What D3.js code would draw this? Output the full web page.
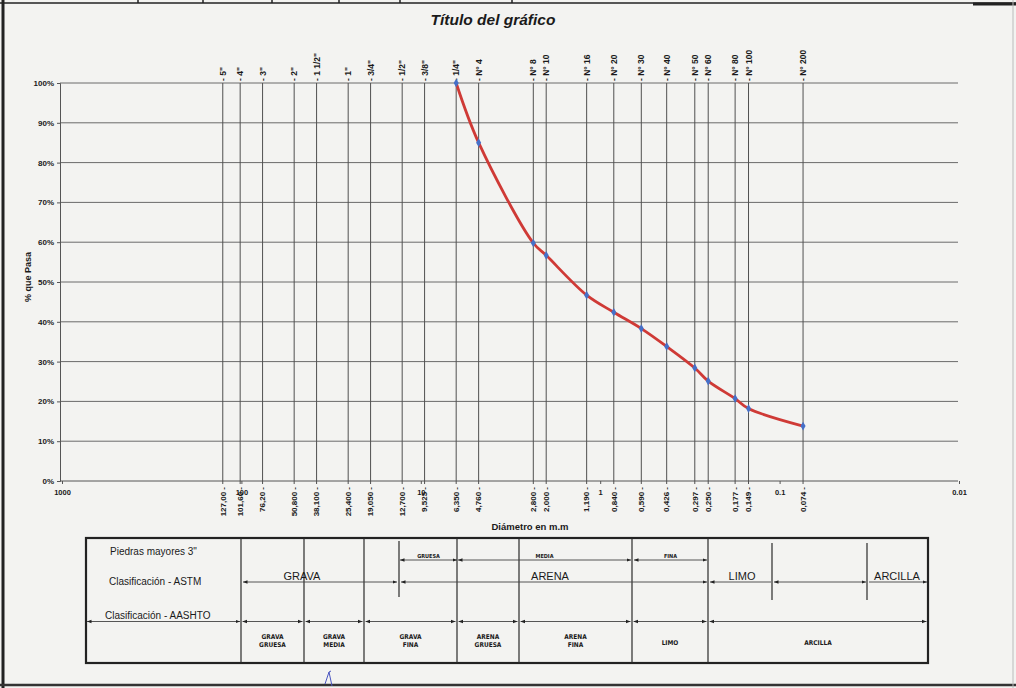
<!DOCTYPE html>
<html><head><meta charset="utf-8">
<script src="https://d3js.org/d3.v7.min.js"></script>
<style>
html,body{margin:0;padding:0;background:#f3f3f1;}
svg{display:block;}
text{font-family:"Liberation Sans",Arial,sans-serif;fill:#1a1a1a;}
</style></head>
<body>
<svg id="c" width="1016" height="688"></svg>
<script>
// ---------------- DATA ----------------
const sieveNames = ['- 5"','- 4"','- 3"','- 2"','- 1 1/2"','- 1"','- 3/4"','- 1/2"','- 3/8"','- 1/4"',
  '- N° 4','- N° 8','- N° 10','- N° 16','- N° 20','- N° 30','- N° 40','- N° 50','- N° 60','- N° 80','- N° 100','- N° 200'];
const sieveSizes = [127,101.6,76.2,50.8,38.1,25.4,19.05,12.7,9.525,6.35,4.76,2.36,2.0,1.19,0.84,0.59,0.426,0.297,0.25,0.177,0.149,0.074];
const sieveSizeLabels = ['127,00 -','101,60 -','76,20 -','50,800 -','38,100 -','25,400 -','19,050 -','12,700 -','9,525 -','6,350 -','4,760 -',
  '2,800 -','2,000 -','1,190 -','0,840 -','0,590 -','0,426 -','0,297 -','0,250 -','0,177 -','0,149 -','0,074 -'];
// test points: sieve size (mm) and fraction passing
const testSizes   = [6.35,4.76,2.36,2.0,1.19,0.84,0.59,0.426,0.297,0.25,0.177,0.149,0.074];
const testPassing = [1.00,0.85,0.598,0.567,0.467,0.424,0.383,0.338,0.284,0.251,0.207,0.182,0.138];
const xTickValues = [1000,100,10,1,0.1,0.01];
const xTickLabels = ["1000","100","10","1","0.1","0.01"];
const yTickValues = [0,0.1,0.2,0.3,0.4,0.5,0.6,0.7,0.8,0.9,1.0];
const titleText = "Título del gráfico";
const yTitle = "% que Pasa";
const xTitle = "Diámetro en m.m";
const rowLabels = ['Piedras mayores 3"','Clasificación - ASTM','Clasificación - AASHTO'];
const astmSubLabels = ["GRUESA","MEDIA","FINA"];
const astmLabels = ["GRAVA","ARENA","LIMO","ARCILLA"];
const aashtoLabels = [["GRAVA","GRUESA"],["GRAVA","MEDIA"],["GRAVA","FINA"],["ARENA","GRUESA"],["ARENA","FINA"],["LIMO"],["ARCILLA"]];

// ---------------- LAYOUT ----------------
const svg = d3.select("#c");
const L = {left:60, right:958, top:83, bottom:481};
const x = d3.scaleLog().domain([1000,0.01]).range([62,959]);
const y = d3.scaleLinear().domain([0,1]).range([L.bottom,L.top]);

// page frame (scan)
const frame = svg.append("g").attr("stroke","#222").attr("fill","none");
frame.append("line").attr("x1",3).attr("x2",3).attr("y1",0).attr("y2",688).attr("stroke-width",3);
frame.append("line").attr("x1",0).attr("x2",1016).attr("y1",3).attr("y2",3).attr("stroke-width",1.5);
[138,203,272,339,400,512].forEach(v=>frame.append("line").attr("x1",v).attr("x2",v).attr("y1",0).attr("y2",3).attr("stroke-width",1.5));
frame.append("line").attr("x1",973).attr("x2",1016).attr("y1",4).attr("y2",4).attr("stroke-width",3);
frame.append("line").attr("x1",0).attr("x2",1016).attr("y1",685).attr("y2",685).attr("stroke-width",2.5).attr("stroke","#333");
frame.append("line").attr("x1",1013).attr("x2",1013).attr("y1",0).attr("y2",688).attr("stroke-width",1).attr("stroke","#bbb");

// title
svg.append("text").attr("x",493).attr("y",25).attr("text-anchor","middle")
  .style("font-size","15.5px").style("font-weight","bold").style("font-style","italic").text(titleText);

// horizontal gridlines
svg.append("g").selectAll("line").data(yTickValues.filter(d=>d>0)).join("line")
  .attr("x1",L.left).attr("x2",L.right).attr("y1",d=>y(d)).attr("y2",d=>y(d))
  .attr("stroke","#6a6a6a").attr("stroke-width",1);

// y axis
const yAxis = svg.append("g").attr("transform",`translate(${L.left},0)`)
  .call(d3.axisLeft(y).tickValues(yTickValues).tickFormat(d3.format(".0%")).tickSize(3).tickPadding(3));
yAxis.select(".domain").attr("stroke","#555");
yAxis.selectAll(".tick line").attr("stroke","#555");
yAxis.selectAll("text").style("font-size","8px").style("font-weight","bold").attr("fill","#222");

// x axis
const xAxis = svg.append("g").attr("transform",`translate(0,${L.bottom})`)
  .call(d3.axisBottom(x).tickValues(xTickValues).tickFormat((d,i)=>xTickLabels[i]).tickSize(3).tickPadding(6));
xAxis.select(".domain").attr("stroke","#555").attr("d",`M${L.left},0H${L.right}`);
xAxis.selectAll(".tick line").attr("stroke","#555");
xAxis.selectAll("text").style("font-size","7.5px").style("font-weight","bold").attr("fill","#222");

// sieve lines
const sieves = sieveSizes.map((s,i)=>({s, name:sieveNames[i], lab:sieveSizeLabels[i]}));
svg.append("g").selectAll("line").data(sieves).join("line")
  .attr("x1",d=>x(d.s)).attr("x2",d=>x(d.s)).attr("y1",y(1)).attr("y2",L.bottom+3)
  .attr("stroke","#505050").attr("stroke-width",1);
svg.append("g").selectAll("text").data(sieves).join("text")
  .attr("transform",d=>`translate(${x(d.s)},81) rotate(-90)`).attr("dy","0.35em")
  .style("font-size","8.5px").style("font-weight","bold").text(d=>d.name);
svg.append("g").selectAll("text").data(sieves).join("text")
  .attr("transform",d=>`translate(${x(d.s)},487) rotate(-90)`).attr("dy","0.35em").attr("text-anchor","end")
  .style("font-size","8px").style("font-weight","bold").text(d=>d.lab);

// axis titles
svg.append("text").attr("transform","translate(31,277) rotate(-90)").attr("text-anchor","middle")
  .style("font-size","9px").style("font-weight","bold").text(yTitle);
svg.append("text").attr("x",530).attr("y",530).attr("text-anchor","middle")
  .style("font-size","9.5px").style("font-weight","bold").text(xTitle);

// curve
const pts = testSizes.map((s,i)=>[x(s), y(testPassing[i])]);
svg.append("path").attr("d",d3.line().curve(d3.curveCatmullRom.alpha(0.5))(pts))
  .attr("fill","none").attr("stroke","#cf3a36").attr("stroke-width",2.8);
svg.append("g").selectAll("path").data(pts).join("path")
  .attr("transform",d=>`translate(${d[0]},${d[1]})`)
  .attr("d",d3.symbol(d3.symbolDiamond).size(22)).attr("fill","#4670c8");

// ---------------- TABLE ----------------
const T = {x0:86, x1:928, y0:538, y1:663};
const defs = svg.append("defs");
defs.append("marker").attr("id","ah").attr("viewBox","0 0 10 10").attr("refX",10).attr("refY",5)
  .attr("markerWidth",5).attr("markerHeight",5).attr("orient","auto-start-reverse")
  .append("path").attr("d","M0,1L10,5L0,9Z").attr("fill","#222");
const tb = svg.append("g");
tb.append("rect").attr("x",T.x0).attr("y",T.y0).attr("width",T.x1-T.x0).attr("height",T.y1-T.y0)
  .attr("fill","none").attr("stroke","#222").attr("stroke-width",2.2);
[241,304,364,457,519,632,708].forEach(v=>tb.append("line").attr("x1",v).attr("x2",v).attr("y1",T.y0).attr("y2",T.y1)
  .attr("stroke","#2a2a2a").attr("stroke-width",1.2));
[[399,541,597],[772,543,600],[867,543,600]].forEach(a=>tb.append("line").attr("x1",a[0]).attr("x2",a[0]).attr("y1",a[1]).attr("y2",a[2])
  .attr("stroke","#2a2a2a").attr("stroke-width",1.2));
function arrow(xa,xb,yy,startHead,endHead){
  const l = tb.append("line").attr("x1",xa).attr("x2",xb).attr("y1",yy).attr("y2",yy).attr("stroke","#444").attr("stroke-width",0.9);
  if(startHead) l.attr("marker-start","url(#ah)");
  if(endHead) l.attr("marker-end","url(#ah)");
}
// row labels
[[110,555],[109,585],[105,619]].forEach((p,i)=>tb.append("text").attr("x",p[0]).attr("y",p[1])
  .style("font-size","10px").text(rowLabels[i]));
// ASTM sub
const subSpans = [[400,457],[458,631],[634,707]];
subSpans.forEach((s,i)=>{arrow(s[0],s[1],560,true,true);
  tb.append("text").attr("x",(s[0]+s[1])/2).attr("y",558).attr("text-anchor","middle")
    .style("font-size","5.5px").style("font-weight","bold")
    .style("font-family","'Liberation Sans Narrow','DejaVu Sans Condensed',sans-serif").text(astmSubLabels[i]);});
// ASTM main
arrow(243,397,582,true,true);
arrow(401,707,582,true,true);
arrow(710,771,582,true,false);
arrow(774,866,582,true,true);
arrow(869,927,582,false,true);
[[302,"GRAVA"],[550,"ARENA"],[742,"LIMO"],[897,"ARCILLA"]].forEach((p,i)=>tb.append("text").attr("x",p[0]).attr("y",580)
  .attr("text-anchor","middle").style("font-size","11px").text(astmLabels[i]));
// AASHTO
const aCols = [241,304,364,457,519,632,708,928];
arrow(87,240,621.5,true,true);
for(let i=0;i<aCols.length-1;i++){
  arrow(aCols[i]+1.5,aCols[i+1]-1.5,621.5,true,true);
  const lines = aashtoLabels[i];
  const cx = (aCols[i]+aCols[i+1])/2;
  lines.forEach((t,j)=>tb.append("text").attr("x",cx).attr("y",lines.length===1?645:639+j*8)
    .attr("text-anchor","middle").style("font-size","6.5px").style("font-weight","bold")
    .style("font-family","'Liberation Sans Narrow','DejaVu Sans Condensed',sans-serif").text(t));
}
// pen mark on scan
svg.append("path").attr("d","M325,684 L329,672 L331,671 M329,672 L332,686").attr("fill","none")
  .attr("stroke","#4a55c0").attr("stroke-width",1);
</script>
</body></html>
